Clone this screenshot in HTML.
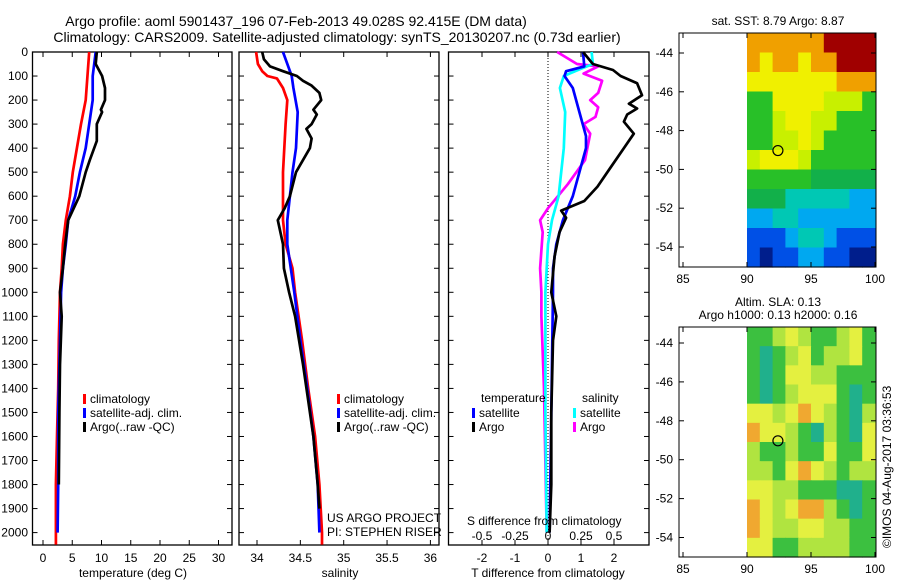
<!DOCTYPE html>
<html><head><meta charset="utf-8"><style>
html,body{margin:0;padding:0;background:#fff}
svg{display:block;font-family:"Liberation Sans",sans-serif;font-size:12px}
</style></head><body>
<svg id="c" width="900" height="580" viewBox="0 0 900 580" xmlns="http://www.w3.org/2000/svg">
<text x="296" y="26" text-anchor="middle" font-size="14">Argo profile: aoml 5901437_196 07-Feb-2013 49.028S 92.415E (DM data)</text>
<text x="337" y="42" text-anchor="middle" font-size="14">Climatology: CARS2009. Satellite-adjusted climatology: synTS_20130207.nc (0.73d earlier)</text>
<g id="g"></g>
</svg>
<script>
// ---- data ----
const depthTicks=[0,100,200,300,400,500,600,700,800,900,1000,1100,1200,1300,1400,1500,1600,1700,1800,1900,2000];
const tTicks=[0,5,10,15,20,25,30];
const sTicks=[34,34.5,35,35.5,36];
const tdTicks=[-2,-1,0,1,2];
const sdTicks=[-0.5,-0.25,0,0.25,0.5];
const sdTickLabels=['-0.5','-0.25','0','0.25','0.5'];
const tempClimDepth=[0,200,300,400,500,600,700,800,900,1000,1200,1400,1600,1800,2050];
const tempClim=[7.9,7.3,6.5,5.8,5.1,4.6,3.9,3.4,3.2,2.9,2.7,2.6,2.4,2.2,2.2];
const tempSatDepth=[0,100,200,300,400,500,600,700,800,900,1000,1200,1500,1800,2000];
const tempSat=[9.0,8.5,8.5,7.9,7.3,6.3,5.5,4.3,3.9,3.4,3.1,2.9,2.6,2.6,2.5];
const tempArgoDepth=[0,50,100,150,200,240,250,300,370,450,500,600,700,800,900,1000,1100,1300,1500,1800];
const tempArgo=[9.2,9.0,10.1,10.6,10.6,9.9,10.1,9.2,9.2,8.0,7.3,6.2,4.3,3.8,3.4,2.9,3.2,2.9,2.8,2.7];
const salClimDepth=[0,50,80,100,110,150,200,300,500,700,800,900,1000,1200,1400,1600,1800,2000,2050];
const salClim=[33.99,34.01,34.06,34.12,34.23,34.3,34.35,34.33,34.3,34.3,34.33,34.41,34.44,34.52,34.59,34.67,34.72,34.75,34.75];
const salSatDepth=[0,30,100,150,250,400,500,600,700,800,900,1000,1200,1400,1600,1800,2000];
const salSat=[34.3,34.33,34.4,34.42,34.47,34.45,34.41,34.38,34.35,34.35,34.39,34.43,34.5,34.58,34.65,34.7,34.72];
const salArgoDepth=[0,30,60,80,100,120,140,170,200,240,260,300,320,360,400,500,600,650,700,800,900,1000,1100,1300,1600,1800,1900];
const salArgo=[34.06,34.08,34.15,34.3,34.46,34.53,34.63,34.72,34.74,34.65,34.69,34.63,34.57,34.63,34.61,34.45,34.38,34.32,34.24,34.3,34.31,34.37,34.44,34.53,34.65,34.7,34.72];
const tdArgoDepth=[0,50,75,100,130,180,215,235,260,290,340,400,480,560,620,660,690,750,850,1000,1100,1200,1500,1800,2000];
const tdArgo=[1.06,1.36,1.97,2.2,2.7,2.85,2.45,2.7,2.4,2.3,2.6,2.3,1.9,1.5,1.1,0.4,0.55,0.35,0.2,0.1,0.25,0.15,0.1,0.1,0.05];
const tdSatDepth=[0,60,80,100,150,250,350,400,500,600,650,700,800,900,1000,1500,2000];
const tdSat=[1.06,1.1,0.55,0.5,0.75,0.95,1.15,1.15,0.95,0.75,0.6,0.45,0.25,0.15,0.15,0.1,0.05];
const sdArgoDepth=[0,50,60,90,120,170,200,230,270,300,340,450,550,650,700,750,900,1000,1100,1400,2000];
const sdArgo=[0.07,0.22,0.38,0.27,0.41,0.38,0.32,0.38,0.36,0.27,0.32,0.28,0.15,0.0,-0.06,-0.04,-0.06,-0.05,-0.05,-0.03,-0.01];
const sdSatDepth=[0,50,70,100,150,250,400,500,600,700,800,1000,1500,2000];
const sdSat=[0.33,0.34,0.25,0.12,0.09,0.13,0.12,0.1,0.08,0.03,0.0,-0.02,-0.02,-0.01];
const latTicks=[-44,-46,-48,-50,-52,-54];
const lonTicks=[85,90,95,100];
const sstGrid=[
[8,8,8,8,8,8,9,9,9,9],[8,7,8,8,7,8,8,9,9,9],[7,7,7,7,7,7,7,8,8,8],[5,5,7,7,7,7,6,6,6,5],
[5,5,6,7,7,6,6,5,5,5],[5,5,6,6,7,6,5,5,5,5],[6,7,7,7,6,5,5,5,5,5],[5,5,5,5,5,4,4,4,4,4],
[4,4,4,3,3,3,3,3,2,2],[2,2,3,3,2,2,2,2,2,2],[1,1,1,2,3,3,2,1,1,1],[1,0,1,1,2,2,1,1,0,0]];
const slaGrid=[
[1,1,2,3,2,1,1,2,3,1],[1,0,1,2,3,1,2,2,3,1],[1,0,1,3,3,2,2,1,1,1],[1,0,1,2,3,3,3,1,0,1],
[3,3,2,3,4,3,2,1,0,2],[4,3,3,2,1,0,2,1,0,3],[2,1,1,2,1,1,3,1,1,3],[2,2,1,3,4,3,2,1,2,2],
[3,3,2,2,1,1,1,0,0,1],[4,3,2,3,4,4,2,1,0,1],[4,3,2,2,3,3,2,2,1,1],[3,3,1,1,2,2,2,2,1,1]];
const argoLon=92.415, argoLat=-49.028;
// ---- drawing ----
const NS='http://www.w3.org/2000/svg';
const G=document.getElementById('g');
function mk(t,a,p){const e=document.createElementNS(NS,t);for(const k in a)e.setAttribute(k,a[k]);(p||G).appendChild(e);return e;}
function txt(x,y,s,anchor,p){const e=mk('text',{x:x,y:y,'text-anchor':anchor||'start'},p);e.textContent=s;return e;}
const yD=d=>52+d*0.2403;
const P1={l:32.5,r:232,x:v=>43+v*5.85};
const P2={l:239,r:439,x:v=>257+(v-34)*86.7};
const P3={l:448.5,r:649,x:v=>548+v*33,xs:v=>548+v*132};
const TOP=52,BOT=545;
function frame(P,name){
  const r=mk('rect',{x:P.l,y:TOP,width:P.r-P.l,height:BOT-TOP,fill:'none',stroke:'#000','stroke-width':1.3});
  
  depthTicks.forEach(d=>{mk('line',{x1:P.l,x2:P.l+5,y1:yD(d),y2:yD(d),stroke:'#000'});mk('line',{x1:P.r,x2:P.r-5,y1:yD(d),y2:yD(d),stroke:'#000'});});
}
function line(P,xs,ds,vs,col,name){
  const pts=vs.map((v,i)=>xs(v).toFixed(1)+','+yD(ds[i]).toFixed(1)).join(' ');
  const e=mk('polyline',{points:pts,fill:'none',stroke:col,'stroke-width':2.7,'stroke-linejoin':'round'});
  
}
function legend(x,y,col,label,name){
  const g=mk('g',{});
  mk('rect',{x:x,y:y-9,width:3,height:10,fill:col},g);txt(x+7,y,label,'start',g);
}
// Panel 1
frame(P1,'temperature-panel');
const yl=mk('g',{});
depthTicks.forEach(d=>txt(28,yD(d)+4,String(d),'end',yl));
tTicks.forEach(v=>{mk('line',{x1:P1.x(v),x2:P1.x(v),y1:BOT,y2:BOT-5,stroke:'#000'});mk('line',{x1:P1.x(v),x2:P1.x(v),y1:TOP,y2:TOP+5,stroke:'#000'});txt(P1.x(v),562,String(v),'middle');});
line(P1,P1.x,tempClimDepth,tempClim,'#ff0000','temp-climatology-line');
line(P1,P1.x,tempSatDepth,tempSat,'#0000ff','temp-satellite-line');
line(P1,P1.x,tempArgoDepth,tempArgo,'#000','temp-argo-line');
legend(83,403,'#ff0000','climatology','legend-climatology-t');
legend(83,417,'#0000ff','satellite-adj. clim.','legend-satellite-t');
legend(83,431,'#000','Argo(..raw -QC)','legend-argo-t');
txt(133,577,'temperature (deg C)','middle');
// Panel 2
frame(P2,'salinity-panel');
sTicks.forEach(v=>{mk('line',{x1:P2.x(v),x2:P2.x(v),y1:BOT,y2:BOT-5,stroke:'#000'});mk('line',{x1:P2.x(v),x2:P2.x(v),y1:TOP,y2:TOP+5,stroke:'#000'});txt(P2.x(v),562,String(v),'middle');});
line(P2,P2.x,salClimDepth,salClim,'#ff0000','sal-climatology-line');
line(P2,P2.x,salSatDepth,salSat,'#0000ff','sal-satellite-line');
line(P2,P2.x,salArgoDepth,salArgo,'#000','sal-argo-line');
legend(337,403,'#ff0000','climatology','legend-climatology-s');
legend(337,417,'#0000ff','satellite-adj. clim.','legend-satellite-s');
legend(337,431,'#000','Argo(..raw -QC)','legend-argo-s');
txt(327,522,'US ARGO PROJECT');
txt(327,536,'PI: STEPHEN RISER');
txt(340,577,'salinity','middle');
// Panel 3
frame(P3,'difference-panel');
tdTicks.forEach(v=>{mk('line',{x1:P3.x(v),x2:P3.x(v),y1:BOT,y2:BOT-5,stroke:'#000'});mk('line',{x1:P3.x(v),x2:P3.x(v),y1:TOP,y2:TOP+5,stroke:'#000'});txt(P3.x(v),562,String(v),'middle');});
mk('line',{x1:P3.x(0),x2:P3.x(0),y1:TOP,y2:BOT,stroke:'#000','stroke-dasharray':'1,2'});
line(P3,P3.xs,sdArgoDepth,sdArgo,'#ff00ff','sdiff-argo-line');
line(P3,P3.xs,sdSatDepth,sdSat,'#00ffff','sdiff-satellite-line');
line(P3,P3.x,tdSatDepth,tdSat,'#0000ff','tdiff-satellite-line');
line(P3,P3.x,tdArgoDepth,tdArgo,'#000','tdiff-argo-line');
txt(481,402,'temperature');
txt(582,402,'salinity');
legend(472,417,'#0000ff','satellite','legend-tdiff-satellite');
legend(472,431,'#000','Argo','legend-tdiff-argo');
legend(573,417,'#00ffff','satellite','legend-sdiff-satellite');
legend(573,431,'#ff00ff','Argo','legend-sdiff-argo');
txt(467,525,'S difference from climatology');
sdTicks.forEach((v,i)=>txt(P3.xs(v),540,sdTickLabels[i],'middle'));
txt(548,577,'T difference from climatology','middle');
// Maps
const sstCols=['#001e8c','#0050e6','#00a8f0','#00c8b4','#12b04a','#28c028','#c8f000','#f0f000','#f0a000','#a00000'];
const slaCols=['#20b08c','#3cc040','#b0e440','#e4f040','#f0a830'];
function map(M,grid,cols,name){
  const g=mk('g',{});
  const lx=v=>747+(v-90)*12.8, ly=v=>M.y0+(-44-v)*M.s;
  const latTop=-44+(M.y0-M.top)/M.s, latBot=-44-(M.bot-M.y0)/M.s;
  const nr=grid.length,nc=grid[0].length,ch=(ly(latBot)-ly(latTop))/nr,cw=(lx(100)-lx(90))/nc;
  grid.forEach((row,i)=>row.forEach((v,j)=>mk('rect',{x:lx(90)+j*cw,y:ly(latTop)+i*ch,width:cw+0.6,height:ch+0.6,fill:cols[v]},g)));
  mk('rect',{x:679,y:M.top,width:197,height:M.bot-M.top,fill:'none',stroke:'#000'},g);
  latTicks.forEach(v=>{mk('line',{x1:679,x2:684,y1:ly(v),y2:ly(v),stroke:'#000'},g);mk('line',{x1:876,x2:871,y1:ly(v),y2:ly(v),stroke:'#000'},g);txt(673,ly(v)+4,String(v),'end',g);});
  lonTicks.forEach(v=>{mk('line',{x1:lx(v),x2:lx(v),y1:M.bot,y2:M.bot-5,stroke:'#000'},g);mk('line',{x1:lx(v),x2:lx(v),y1:M.top,y2:M.top+5,stroke:'#000'},g);txt(lx(v),M.bot+16,String(v),'middle',g);});
  const c=mk('circle',{cx:lx(argoLon),cy:ly(argoLat),r:5,fill:'none',stroke:'#000','stroke-width':1.2},g);
  
}
map({top:33,bot:267,y0:53,s:19.4},sstGrid,sstCols,'sst-map');
map({top:327,bot:557,y0:343,s:19.45},slaGrid,slaCols,'sla-map');
txt(778,25,'sat. SST: 8.79 Argo: 8.87','middle');
txt(778,306,'Altim. SLA: 0.13','middle');
txt(778,319,'Argo h1000: 0.13 h2000: 0.16','middle');
const cr=txt(0,0,'©IMOS 04-Aug-2017 03:36:53','start');
cr.setAttribute('transform','translate(891,548) rotate(-90)');

</script>
</body></html>
